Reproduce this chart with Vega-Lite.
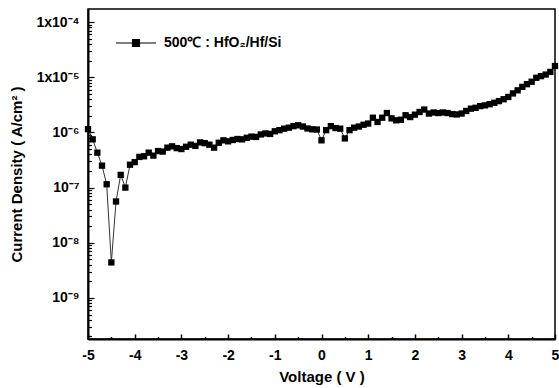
{
  "$schema": "https://vega.github.io/schema/vega-lite/v6.json",
  "width": 467,
  "height": 330,
  "autosize": "none",
  "padding": {"left": 88, "top": 9, "right": 4, "bottom": 49},
  "background": "white",
  "config": {
    "font": "Liberation Sans",
    "view": {"stroke": "black", "strokeWidth": 1.5},
    "axis": {"grid": false, "domainColor": "black", "domainWidth": 2, "tickColor": "black", "labelColor": "black", "titleColor": "black", "labelFont": "Liberation Sans", "titleFont": "Liberation Sans", "labelFontWeight": "bold", "titleFontWeight": "bold", "labelFontSize": 14, "titleFontSize": 15}
  },
  "data": {
    "values": [
      {"v": -5.0, "j": 1.15e-6}, {"v": -4.9, "j": 7.5e-7}, {"v": -4.8, "j": 4.3e-7}, {"v": -4.7, "j": 2.5e-7},
      {"v": -4.6, "j": 1.15e-7}, {"v": -4.5, "j": 4.4e-9}, {"v": -4.4, "j": 5.6e-8}, {"v": -4.3, "j": 1.7e-7},
      {"v": -4.2, "j": 1.0e-7}, {"v": -4.1, "j": 2.6e-7}, {"v": -4.0, "j": 2.9e-7}, {"v": -3.9, "j": 3.6e-7},
      {"v": -3.8, "j": 3.7e-7}, {"v": -3.7, "j": 4.3e-7}, {"v": -3.6, "j": 3.8e-7}, {"v": -3.5, "j": 4.6e-7},
      {"v": -3.4, "j": 4.5e-7}, {"v": -3.3, "j": 5.3e-7}, {"v": -3.2, "j": 5.6e-7}, {"v": -3.1, "j": 5.2e-7},
      {"v": -3.0, "j": 5.0e-7}, {"v": -2.9, "j": 5.5e-7}, {"v": -2.8, "j": 6.0e-7}, {"v": -2.7, "j": 5.7e-7},
      {"v": -2.6, "j": 6.6e-7}, {"v": -2.5, "j": 6.4e-7}, {"v": -2.4, "j": 6.0e-7}, {"v": -2.3, "j": 5.3e-7},
      {"v": -2.2, "j": 6.5e-7}, {"v": -2.1, "j": 7.2e-7}, {"v": -2.0, "j": 6.9e-7}, {"v": -1.9, "j": 7.3e-7},
      {"v": -1.8, "j": 7.6e-7}, {"v": -1.7, "j": 7.5e-7}, {"v": -1.6, "j": 8.0e-7}, {"v": -1.5, "j": 8.4e-7},
      {"v": -1.4, "j": 8.3e-7}, {"v": -1.3, "j": 9.2e-7}, {"v": -1.2, "j": 9.6e-7}, {"v": -1.1, "j": 9.4e-7},
      {"v": -1.0, "j": 1.05e-6}, {"v": -0.9, "j": 1.1e-6}, {"v": -0.8, "j": 1.17e-6}, {"v": -0.7, "j": 1.22e-6},
      {"v": -0.6, "j": 1.3e-6}, {"v": -0.5, "j": 1.35e-6}, {"v": -0.4, "j": 1.28e-6}, {"v": -0.3, "j": 1.18e-6},
      {"v": -0.2, "j": 1.14e-6}, {"v": -0.1, "j": 1.13e-6}, {"v": 0.0, "j": 7.2e-7}, {"v": 0.1, "j": 1.1e-6},
      {"v": 0.2, "j": 1.3e-6}, {"v": 0.3, "j": 1.2e-6}, {"v": 0.4, "j": 1.17e-6}, {"v": 0.5, "j": 7.8e-7},
      {"v": 0.6, "j": 1.1e-6}, {"v": 0.7, "j": 1.22e-6}, {"v": 0.8, "j": 1.28e-6}, {"v": 0.9, "j": 1.38e-6},
      {"v": 1.0, "j": 1.45e-6}, {"v": 1.1, "j": 1.85e-6}, {"v": 1.2, "j": 1.55e-6}, {"v": 1.3, "j": 1.85e-6},
      {"v": 1.4, "j": 2.25e-6}, {"v": 1.5, "j": 1.8e-6}, {"v": 1.6, "j": 1.66e-6}, {"v": 1.7, "j": 1.7e-6},
      {"v": 1.8, "j": 2.05e-6}, {"v": 1.9, "j": 1.9e-6}, {"v": 2.0, "j": 2.1e-6}, {"v": 2.1, "j": 2.35e-6},
      {"v": 2.2, "j": 2.6e-6}, {"v": 2.3, "j": 2.2e-6}, {"v": 2.4, "j": 2.3e-6}, {"v": 2.5, "j": 2.25e-6},
      {"v": 2.6, "j": 2.3e-6}, {"v": 2.7, "j": 2.25e-6}, {"v": 2.8, "j": 2.15e-6}, {"v": 2.9, "j": 2.12e-6},
      {"v": 3.0, "j": 2.2e-6}, {"v": 3.1, "j": 2.45e-6}, {"v": 3.2, "j": 2.7e-6}, {"v": 3.3, "j": 2.8e-6},
      {"v": 3.4, "j": 3.0e-6}, {"v": 3.5, "j": 3.1e-6}, {"v": 3.6, "j": 3.25e-6}, {"v": 3.7, "j": 3.45e-6},
      {"v": 3.8, "j": 3.7e-6}, {"v": 3.9, "j": 4.0e-6}, {"v": 4.0, "j": 4.4e-6}, {"v": 4.1, "j": 5.1e-6},
      {"v": 4.2, "j": 5.8e-6}, {"v": 4.3, "j": 6.7e-6}, {"v": 4.4, "j": 7.5e-6}, {"v": 4.5, "j": 8.3e-6},
      {"v": 4.6, "j": 9.8e-6}, {"v": 4.7, "j": 1.05e-5}, {"v": 4.8, "j": 1.12e-5}, {"v": 4.9, "j": 1.25e-5},
      {"v": 5.0, "j": 1.6e-5}
    ]
  },
  "encoding": {
    "x": {
      "field": "v", "type": "quantitative",
      "scale": {"domain": [-5, 5], "nice": false, "zero": false},
      "axis": {
        "title": "Voltage ( V )",
        "values": [-5, -4.5, -4, -3.5, -3, -2.5, -2, -1.5, -1, -0.5, 0, 0.5, 1, 1.5, 2, 2.5, 3, 3.5, 4, 4.5, 5],
        "labelExpr": "datum.value % 1 == 0 ? '' + datum.value : ''",
        "labelOverlap": false,
        "labelFlush": false,
        "tickSize": {"condition": {"test": "datum.value % 1 == 0", "value": -5}, "value": -2.5},
        "tickWidth": 1.5,
        "labelPadding": 14,
        "titlePadding": 5
      }
    },
    "y": {
      "field": "j", "type": "quantitative",
      "scale": {"type": "log", "domain": [1.8e-10, 1.73e-4], "nice": false},
      "axis": {
        "title": "Current Density ( A/cm² )",
        "values": [2e-10, 3e-10, 4e-10, 5e-10, 6e-10, 7e-10, 8e-10, 9e-10,
                   1e-9, 2e-9, 3e-9, 4e-9, 5e-9, 6e-9, 7e-9, 8e-9, 9e-9,
                   1e-8, 2e-8, 3e-8, 4e-8, 5e-8, 6e-8, 7e-8, 8e-8, 9e-8,
                   1e-7, 2e-7, 3e-7, 4e-7, 5e-7, 6e-7, 7e-7, 8e-7, 9e-7,
                   1e-6, 2e-6, 3e-6, 4e-6, 5e-6, 6e-6, 7e-6, 8e-6, 9e-6,
                   1e-5, 2e-5, 3e-5, 4e-5, 5e-5, 6e-5, 7e-5, 8e-5, 9e-5, 1e-4],
        "labelExpr": "abs(log(datum.value)/LN10 - round(log(datum.value)/LN10)) > 0.001 ? '' : (round(log(datum.value)/LN10) == -4 ? '1x10⁻⁴' : round(log(datum.value)/LN10) == -5 ? '1x10⁻⁵' : round(log(datum.value)/LN10) == -6 ? '10⁻⁶' : round(log(datum.value)/LN10) == -7 ? '10⁻⁷' : round(log(datum.value)/LN10) == -8 ? '10⁻⁸' : '10⁻⁹')",
        "labelOverlap": false,
        "tickSize": {"condition": {"test": "abs(log(datum.value)/LN10 - round(log(datum.value)/LN10)) < 0.001", "value": -6}, "value": -3.5},
        "tickWidth": 1.2,
        "labelPadding": 15,
        "titlePadding": 11
      }
    }
  },
  "layer": [
    {
      "mark": {"type": "line", "color": "#333333", "strokeWidth": 1}
    },
    {
      "mark": {"type": "point", "shape": "square", "filled": true, "size": 40, "opacity": 1},
      "encoding": {
        "color": {
          "datum": "500℃ : HfO₂/Hf/Si",
          "type": "nominal",
          "scale": {"range": ["black"]},
          "legend": {
            "title": null,
            "orient": "none",
            "legendX": 34,
            "legendY": 20,
            "padding": 0,
            "symbolType": "M-1.5,0H1.5M-0.26,-0.26H0.26V0.26H-0.26Z",
            "symbolSize": 711,
            "symbolStrokeColor": "black",
            "symbolStrokeWidth": 1.2,
            "symbolFillColor": "black",
            "labelFont": "Liberation Sans",
            "labelFontSize": 14,
            "labelFontWeight": "bold",
            "labelColor": "black",
            "labelOffset": 14,
            "encode": {"symbols": {"update": {"stroke": {"value": "black"}, "strokeWidth": {"value": 1.2}, "fill": {"value": "black"}, "opacity": {"value": 1}}}}
          }
        }
      }
    }
  ]
}
